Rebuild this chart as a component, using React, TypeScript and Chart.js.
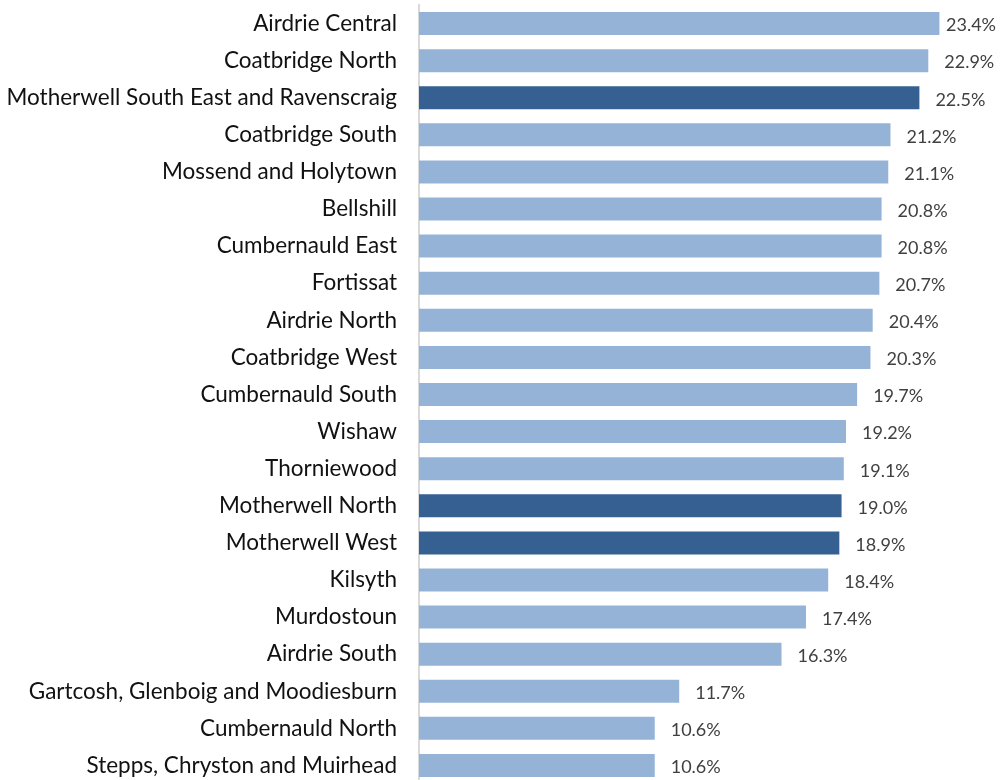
import React, { useEffect, useRef } from "react";
import { Chart, registerables } from "chart.js";

Chart.register(...registerables);

const categories = [
  "Airdrie Central",
  "Coatbridge North",
  "Motherwell South East and Ravenscraig",
  "Coatbridge South",
  "Mossend and Holytown",
  "Bellshill",
  "Cumbernauld East",
  "Fortissat",
  "Airdrie North",
  "Coatbridge West",
  "Cumbernauld South",
  "Wishaw",
  "Thorniewood",
  "Motherwell North",
  "Motherwell West",
  "Kilsyth",
  "Murdostoun",
  "Airdrie South",
  "Gartcosh, Glenboig and Moodiesburn",
  "Cumbernauld North",
  "Stepps, Chryston and Muirhead",
];

const values = [23.4, 22.9, 22.5, 21.2, 21.1, 20.8, 20.8, 20.7, 20.4, 20.3, 19.7, 19.2, 19.1, 19.0, 18.9, 18.4, 17.4, 16.3, 11.7, 10.6, 10.6];

const highlighted = ["Motherwell South East and Ravenscraig", "Motherwell North", "Motherwell West"];

const LIGHT = "#95B3D7";
const DARK = "#366092";

const valueLabels = {
  id: "valueLabels",
  afterDatasetsDraw(chart: any) {
    const ctx = chart.ctx;
    const meta = chart.getDatasetMeta(0);
    ctx.save();
    ctx.font = "18px Lato, sans-serif";
    ctx.fillStyle = "#404040";
    ctx.textAlign = "left";
    ctx.textBaseline = "middle";
    meta.data.forEach((bar: any, i: number) => {
      const text = values[i].toFixed(1) + "%";
      const w = ctx.measureText(text).width;
      const x = Math.min(bar.x + 16, 996 - w);
      ctx.fillText(text, x, bar.y + 2);
    });
    ctx.restore();
  },
};

export default function App() {
  const ref = useRef<HTMLCanvasElement | null>(null);
  useEffect(() => {
    document.body.style.margin = "0";
    document.body.style.overflow = "hidden";
    const chart = new Chart(ref.current!, {
      type: "bar",
      data: {
        labels: categories,
        datasets: [
          {
            data: values,
            backgroundColor: categories.map((c) => (highlighted.includes(c) ? DARK : LIGHT)),
            barPercentage: 0.62,
            categoryPercentage: 1,
          },
        ],
      },
      options: {
        indexAxis: "y",
        animation: false,
        responsive: false,
        layout: { padding: { top: 5, right: 28, bottom: 0, left: 0 } },
        plugins: { legend: { display: false }, tooltip: { enabled: false } },
        scales: {
          x: { display: false, min: 0, max: 25 },
          y: {
            afterFit(scale: any) {
              scale.width = 419;
              scale.paddingTop = 0;
              scale.paddingBottom = 0;
            },
            grid: { display: false, drawTicks: false },
            border: { display: true, color: "#D9D9D9", width: 2 },
            ticks: {
              padding: 22,
              color: "#111111",
              font: { family: "Lato, sans-serif", size: 22.5 },
            },
          },
        },
      },
      plugins: [valueLabels],
    });
    return () => chart.destroy();
  }, []);
  return (
    <div style={{ position: "relative", width: 1003, height: 780, overflow: "hidden" }}>
      <canvas ref={ref} width={1003} height={784} style={{ position: "absolute", left: 0, top: 0 }} />
    </div>
  );
}
